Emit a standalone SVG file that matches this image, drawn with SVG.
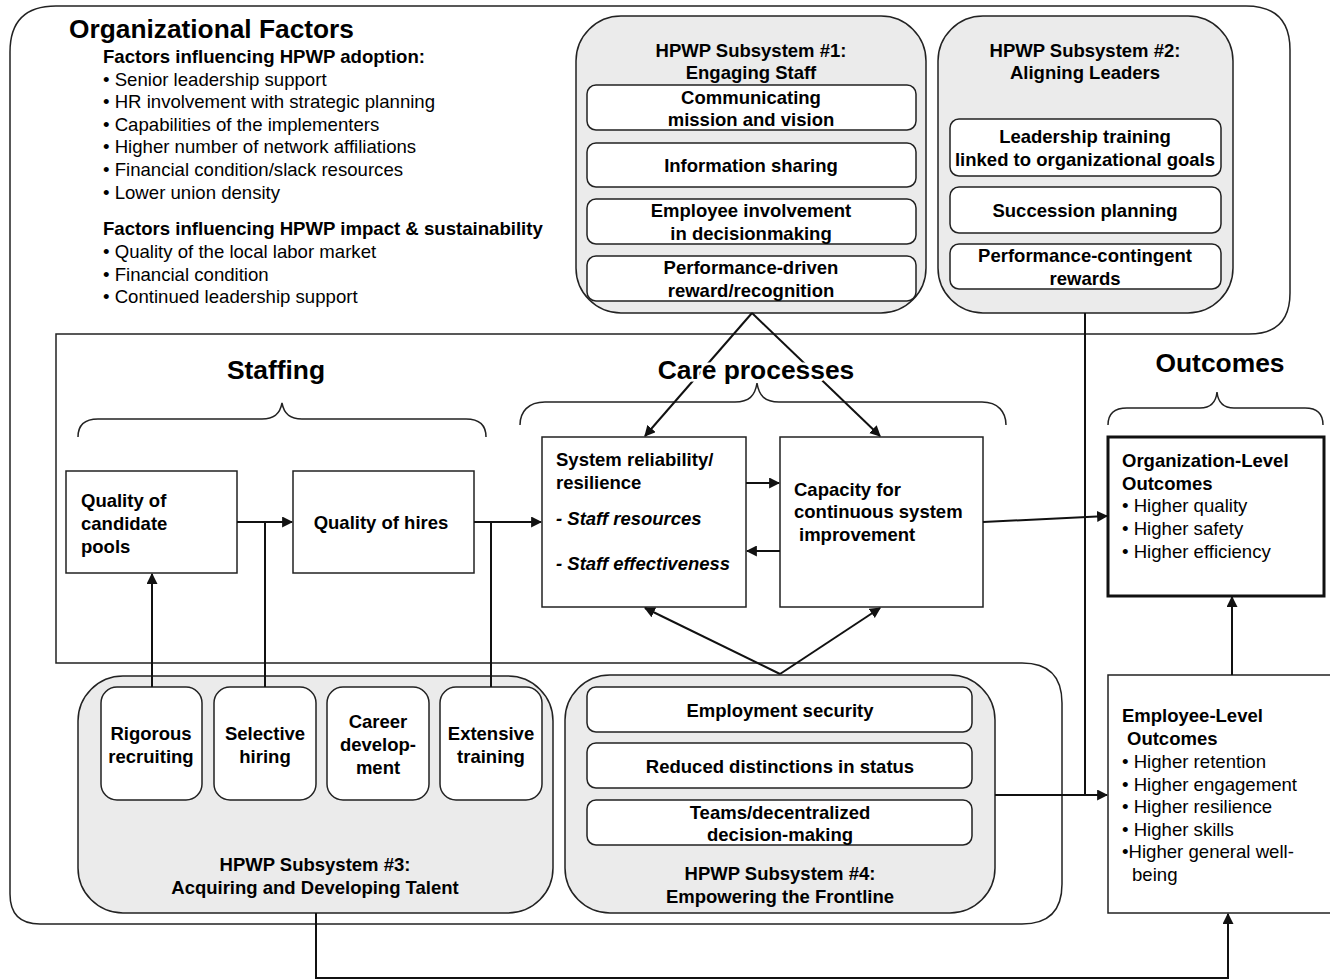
<svg xmlns="http://www.w3.org/2000/svg" width="1330" height="980" viewBox="0 0 1330 980">
<defs>
<style>
text{font-family:"Liberation Sans",Arial,sans-serif;fill:#000}
.h1{font-size:26.3px;font-weight:bold}
.h2{font-size:18.6px;font-weight:bold}
.li{font-size:18.6px}
.hd{font-size:26.4px;font-weight:bold;text-anchor:middle}
.bx{font-size:18.5px;font-weight:bold}
.c{text-anchor:middle}
.sub{fill:#ebebeb;stroke:#222;stroke-width:1.5}
.in{fill:#fff;stroke:#222;stroke-width:1.5}
.box{fill:#fff;stroke:#222;stroke-width:1.5}
.ln{fill:none;stroke:#111;stroke-width:2}
.ar{fill:none;stroke:#111;stroke-width:2;marker-end:url(#ah)}
.brace{fill:none;stroke:#222;stroke-width:1.5}
.halo{stroke:#fff;stroke-width:5;paint-order:stroke}
</style>
<marker id="ah" viewBox="0 0 10 10" refX="9" refY="5" markerWidth="5.5" markerHeight="5.5" orient="auto" markerUnits="strokeWidth">
<path d="M0,0 L10,5 L0,10 z" fill="#111"/>
</marker>
</defs>
<rect width="1330" height="980" fill="#fff"/>

<g id="org-factors">
<path d="M56,334 L1249,334 Q1290,334 1290,293 L1290,50 Q1290,6 1246,6 L56,6 Q10,6 10,52 L10,894 Q10,924 40,924 L1022,924 Q1062,924 1062,884 L1062,703 Q1062,663 1022,663 L56,663 Z" fill="none" stroke="#222" stroke-width="1.5"/>
<text class="h1" x="69" y="38">Organizational Factors</text>
<text class="h2" x="103" y="63">Factors influencing HPWP adoption:</text>
<text class="li" x="103" y="86">• Senior leadership support</text>
<text class="li" x="103" y="108">• HR involvement with strategic planning</text>
<text class="li" x="103" y="131">• Capabilities of the implementers</text>
<text class="li" x="103" y="153">• Higher number of network affiliations</text>
<text class="li" x="103" y="176">• Financial condition/slack resources</text>
<text class="li" x="103" y="199">• Lower union density</text>
<text class="h2" x="103" y="235">Factors influencing HPWP impact &amp; sustainability</text>
<text class="li" x="103" y="258">• Quality of the local labor market</text>
<text class="li" x="103" y="281">• Financial condition</text>
<text class="li" x="103" y="303">• Continued leadership support</text>
</g>

<g id="subsystem1">
<rect class="sub" x="576" y="16" width="350" height="297" rx="45"/>
<text class="bx c" x="751" y="57">HPWP Subsystem #1:</text>
<text class="bx c" x="751" y="79">Engaging Staff</text>
<rect class="in" x="587" y="85" width="329" height="45" rx="9"/>
<text class="bx c" x="751" y="104">Communicating</text>
<text class="bx c" x="751" y="126">mission and vision</text>
<rect class="in" x="587" y="143" width="329" height="44" rx="9"/>
<text class="bx c" x="751" y="172">Information sharing</text>
<rect class="in" x="587" y="199" width="329" height="45" rx="9"/>
<text class="bx c" x="751" y="217">Employee involvement</text>
<text class="bx c" x="751" y="240">in decisionmaking</text>
<rect class="in" x="587" y="256" width="329" height="45" rx="9"/>
<text class="bx c" x="751" y="274">Performance-driven</text>
<text class="bx c" x="751" y="297">reward/recognition</text>
</g>

<g id="subsystem2">
<rect class="sub" x="938" y="16" width="295" height="297" rx="45"/>
<text class="bx c" x="1085" y="57">HPWP Subsystem #2:</text>
<text class="bx c" x="1085" y="79">Aligning Leaders</text>
<rect class="in" x="950" y="119" width="271" height="57" rx="9"/>
<text class="bx c" x="1085" y="143">Leadership training</text>
<text class="bx c" x="1085" y="166">linked to organizational goals</text>
<rect class="in" x="950" y="187" width="271" height="46" rx="9"/>
<text class="bx c" x="1085" y="217">Succession planning</text>
<rect class="in" x="950" y="244" width="271" height="45" rx="9"/>
<text class="bx c" x="1085" y="262">Performance-contingent</text>
<text class="bx c" x="1085" y="285">rewards</text>
</g>

<g id="staffing">
<text class="hd" x="276" y="379">Staffing</text>
<path class="brace" d="M78,437 C78,426 84,419 98,419 L262,419 C274,419 280,414 282,403 C284,414 290,419 302,419 L466,419 C480,419 486,426 486,437"/>
</g>

<g id="care-brace">
<path class="brace" d="M520,425 C520,412 528,402 545,402 L735,402 C749,402 755,396 757,383 C759,396 765,402 779,402 L982,402 C998,402 1006,412 1006,425"/>
</g>

<g id="outcomes-head">
<text class="hd" x="1220" y="372">Outcomes</text>
<path class="brace" d="M1108,425 C1108,414 1114,408 1127,408 L1200,408 C1211,408 1216,402 1217,392 C1218,402 1223,408 1234,408 L1305,408 C1318,408 1323,414 1323,425"/>
</g>

<g id="candidate-pools">
<rect class="box" x="66" y="471" width="171" height="102"/>
<text class="bx" x="81" y="507">Quality of</text>
<text class="bx" x="81" y="530">candidate</text>
<text class="bx" x="81" y="553">pools</text>
</g>

<g id="quality-hires">
<rect class="box" x="293" y="471" width="181" height="102"/>
<text class="bx c" x="381" y="529">Quality of hires</text>
</g>

<g id="system-reliability">
<rect class="box" x="542" y="437" width="204" height="170"/>
<text class="bx" x="556" y="466">System reliability/</text>
<text class="bx" x="556" y="489">resilience</text>
<text class="bx" x="556" y="525" font-style="italic">- Staff resources</text>
<text class="bx" x="556" y="570" font-style="italic">- Staff effectiveness</text>
</g>

<g id="capacity">
<rect class="box" x="780" y="437" width="203" height="170"/>
<text class="bx" x="794" y="496">Capacity for</text>
<text class="bx" x="794" y="518">continuous system</text>
<text class="bx" x="799" y="541">improvement</text>
</g>

<g id="org-outcomes">
<rect x="1108" y="437" width="216" height="159" fill="#fff" stroke="#111" stroke-width="3"/>
<text class="bx" x="1122" y="467">Organization-Level</text>
<text class="bx" x="1122" y="490">Outcomes</text>
<text class="li" x="1122" y="512">• Higher quality</text>
<text class="li" x="1122" y="535">• Higher safety</text>
<text class="li" x="1122" y="558">• Higher efficiency</text>
</g>

<g id="employee-outcomes">
<rect class="box" x="1108" y="675" width="240" height="238"/>
<text class="bx" x="1122" y="722">Employee-Level</text>
<text class="bx" x="1127" y="745">Outcomes</text>
<text class="li" x="1122" y="768">• Higher retention</text>
<text class="li" x="1122" y="791">• Higher engagement</text>
<text class="li" x="1122" y="813">• Higher resilience</text>
<text class="li" x="1122" y="836">• Higher skills</text>
<text class="li" x="1122" y="858">•Higher general well-</text>
<text class="li" x="1132" y="881">being</text>
</g>

<g id="subsystem3">
<rect class="sub" x="78" y="676" width="475" height="237" rx="45"/>
<rect class="in" x="101" y="687" width="101" height="113" rx="16"/>
<text class="bx c" x="151" y="740">Rigorous</text>
<text class="bx c" x="151" y="763">recruiting</text>
<rect class="in" x="214" y="687" width="102" height="113" rx="16"/>
<text class="bx c" x="265" y="740">Selective</text>
<text class="bx c" x="265" y="763">hiring</text>
<rect class="in" x="327" y="687" width="102" height="113" rx="16"/>
<text class="bx c" x="378" y="728">Career</text>
<text class="bx c" x="378" y="751">develop-</text>
<text class="bx c" x="378" y="774">ment</text>
<rect class="in" x="440" y="687" width="102" height="113" rx="16"/>
<text class="bx c" x="491" y="740">Extensive</text>
<text class="bx c" x="491" y="763">training</text>
<text class="bx c" x="315" y="871">HPWP Subsystem #3:</text>
<text class="bx c" x="315" y="894">Acquiring and Developing Talent</text>
</g>

<g id="subsystem4">
<rect class="sub" x="565" y="675" width="430" height="238" rx="45"/>
<rect class="in" x="587" y="687" width="385" height="45" rx="9"/>
<text class="bx c" x="780" y="717">Employment security</text>
<rect class="in" x="587" y="743" width="385" height="45" rx="9"/>
<text class="bx c" x="780" y="773">Reduced distinctions in status</text>
<rect class="in" x="587" y="800" width="385" height="45" rx="9"/>
<text class="bx c" x="780" y="819">Teams/decentralized</text>
<text class="bx c" x="780" y="841">decision-making</text>
<text class="bx c" x="780" y="880">HPWP Subsystem #4:</text>
<text class="bx c" x="780" y="903">Empowering the Frontline</text>
</g>

<g id="connectors">
<line class="ar" x1="237" y1="522" x2="292" y2="522"/>
<line class="ln" x1="265" y1="522" x2="265" y2="687"/>
<line class="ar" x1="474" y1="522" x2="541" y2="522"/>
<line class="ln" x1="491" y1="522" x2="491" y2="687"/>
<line class="ar" x1="152" y1="687" x2="152" y2="574"/>
<line class="ar" x1="746" y1="483" x2="779" y2="483"/>
<line class="ar" x1="780" y1="551" x2="747" y2="551"/>
<line class="ar" x1="983" y1="522" x2="1107" y2="516"/>
<line class="ar" x1="752" y1="313" x2="645" y2="436"/>
<line class="ar" x1="752" y1="313" x2="880" y2="436"/>
<line class="ar" x1="780" y1="674" x2="645" y2="608"/>
<line class="ar" x1="780" y1="674" x2="880" y2="608"/>
<line class="ln" x1="1085" y1="313" x2="1085" y2="795"/>
<line class="ar" x1="995" y1="795" x2="1107" y2="795"/>
<line class="ar" x1="1232" y1="675" x2="1232" y2="597"/>
<polyline class="ar" points="316,913 316,978 1228,978 1228,914"/>
</g>

<g id="care-label">
<text class="hd halo" x="756" y="379">Care processes</text>
</g>
</svg>
